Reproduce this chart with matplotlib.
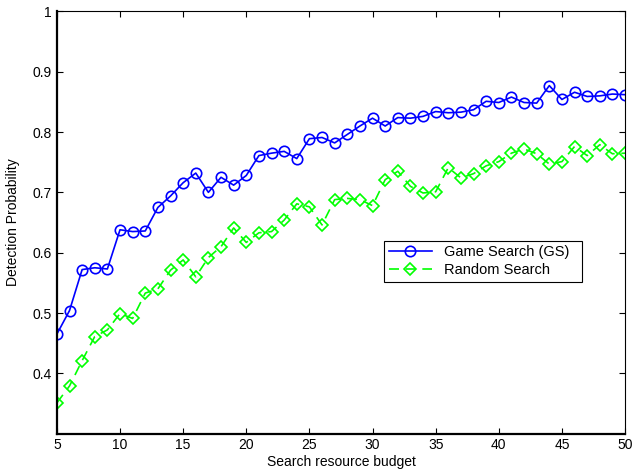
import matplotlib
matplotlib.use('Agg')
import matplotlib.pyplot as plt
import numpy as np

# search budget on x, detection probability on y
budget = np.arange(5, 51)
game_search = [0.465, 0.504, 0.572, 0.575, 0.573, 0.638, 0.635, 0.636, 0.675, 0.694,
               0.716, 0.732, 0.700, 0.725, 0.712, 0.728, 0.761, 0.765, 0.768, 0.756,
               0.789, 0.791, 0.782, 0.796, 0.810, 0.823, 0.810, 0.824, 0.823, 0.826,
               0.834, 0.832, 0.833, 0.837, 0.851, 0.849, 0.858, 0.849, 0.848, 0.877,
               0.854, 0.866, 0.859, 0.860, 0.863, 0.862]
random_search = [0.351, 0.379, 0.421, 0.461, 0.472, 0.499, 0.491, 0.533, 0.540, 0.571,
                 0.588, 0.560, 0.592, 0.610, 0.641, 0.617, 0.633, 0.635, 0.654, 0.681,
                 0.676, 0.646, 0.688, 0.690, 0.688, 0.678, 0.721, 0.735, 0.710, 0.699,
                 0.701, 0.741, 0.724, 0.731, 0.744, 0.751, 0.765, 0.772, 0.764, 0.747,
                 0.751, 0.776, 0.761, 0.779, 0.764, 0.765]

plt.rcParams['font.family'] = ['Liberation Sans', 'DejaVu Sans']
plt.rcParams['font.size'] = 10

fig = plt.figure(figsize=(6.32, 4.76), dpi=100)
ax = fig.add_axes([0.090, 0.089, 0.899, 0.887])

ax.plot(budget, game_search, color='#0000ff', lw=1.2, marker='o', ms=7.5,
        mfc='none', mew=1.2, label='Game Search (GS)')
ax.plot(budget, random_search, color='#00ff00', lw=1.2, ls=(0, (6, 4)), marker='D',
        ms=6.3, mfc='none', mew=1.2, label='Random Search')

ax.set_xlim(5, 50)
ax.set_ylim(0.3, 1.0)
ax.set_xticks([5, 10, 15, 20, 25, 30, 35, 40, 45, 50])
ax.set_yticks([0.4, 0.5, 0.6, 0.7, 0.8, 0.9, 1.0])
ax.set_yticklabels(['0.4', '0.5', '0.6', '0.7', '0.8', '0.9', '1'])
ax.tick_params(direction='in', top=True, right=True, length=4, width=0.8, labelsize=10)
for s in ax.spines.values():
    s.set_linewidth(0.8)
ax.spines['left'].set_linewidth(1.6)
ax.spines['bottom'].set_linewidth(1.6)

ax.set_xlabel('Search resource budget', labelpad=2)
ax.set_ylabel('Detection Probability', labelpad=9)

leg = ax.legend(loc='lower left', bbox_to_anchor=(0.576, 0.360, 0.348, 0.115),
                mode='expand', fancybox=False, edgecolor='black', framealpha=1,
                borderaxespad=0, handlelength=3.0, fontsize=10.5, borderpad=0.3,
                labelspacing=0.3)
leg.get_frame().set_linewidth(0.8)

fig.savefig('out.png', dpi=100)
